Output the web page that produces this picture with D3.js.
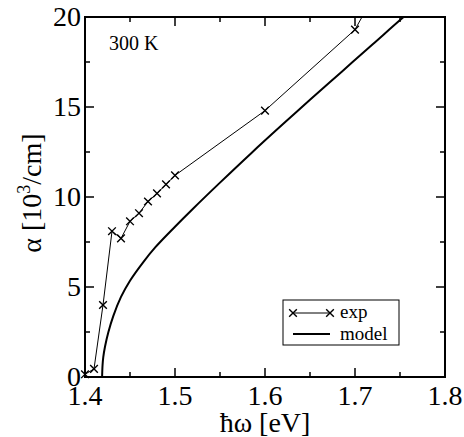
<!DOCTYPE html>
<html>
<head>
<meta charset="utf-8">
<script src="https://cdn.jsdelivr.net/npm/d3@7"></script>
<style>
  body { margin: 0; background: #fff; }
</style>
</head>
<body>
<div id="chart"></div>
<script>
// measured absorption (exp) : photon energy [eV] and alpha [10^3/cm]
var expEnergy = [1.40, 1.41, 1.42, 1.43, 1.44, 1.45, 1.46, 1.47, 1.48, 1.49, 1.50, 1.60, 1.70, 1.71];
var expAlpha  = [0.15, 0.45, 4.0, 8.1, 7.7, 8.65, 9.1, 9.75, 10.2, 10.7, 11.2, 14.8, 19.3, 20.2];

// model curve
var modelEnergy = [1.419, 1.4195, 1.4203, 1.4222, 1.426, 1.4315, 1.44, 1.45, 1.465, 1.478, 1.50, 1.52, 1.55, 1.585, 1.62, 1.65, 1.685, 1.72, 1.754, 1.77];
var modelAlpha  = [0, 0.65, 1.1, 1.68, 2.5, 3.4, 4.45, 5.35, 6.4, 7.2, 8.35, 9.35, 10.8, 12.45, 14.05, 15.4, 16.95, 18.5, 20.0, 20.65];

var xTicks = [1.4, 1.5, 1.6, 1.7, 1.8];
var yTicks = [0, 5, 10, 15, 20];
var xMinor = [1.45, 1.55, 1.65, 1.75];
var yMinor = [2.5, 7.5, 12.5, 17.5];

var FONT = "Liberation Serif";

var svgWidth = 464, svgHeight = 437;
var margin = {top: 17, right: 19, bottom: 60, left: 85};
var chartWidth = svgWidth - margin.left - margin.right;   // 360
var chartHeight = svgHeight - margin.top - margin.bottom; // 360

var svg = d3.select("#chart").append("svg")
  .attr("width", svgWidth)
  .attr("height", svgHeight);

var chartGroup = svg.append("g")
  .attr("transform", `translate(${margin.left}, ${margin.top})`);

var x = d3.scaleLinear().domain([1.4, 1.8]).range([0, chartWidth]);
var y = d3.scaleLinear().domain([0, 20]).range([chartHeight, 0]);

chartGroup.append("clipPath").attr("id", "plotclip")
  .append("rect").attr("width", chartWidth).attr("height", chartHeight);

// frame ticks, all pointing inward
function tickSet(g, vals, len, side) {
  vals.forEach(function(v) {
    var l = g.append("line").attr("stroke", "#000").attr("stroke-width", 1.5);
    if (side === "bottom") l.attr("x1", x(v)).attr("x2", x(v)).attr("y1", chartHeight).attr("y2", chartHeight - len);
    if (side === "top") l.attr("x1", x(v)).attr("x2", x(v)).attr("y1", 0).attr("y2", len);
    if (side === "left") l.attr("y1", y(v)).attr("y2", y(v)).attr("x1", 0).attr("x2", len);
    if (side === "right") l.attr("y1", y(v)).attr("y2", y(v)).attr("x1", chartWidth).attr("x2", chartWidth - len);
  });
}
var ticksG = chartGroup.append("g");
["bottom", "top"].forEach(function(s) { tickSet(ticksG, xTicks, 9, s); tickSet(ticksG, xMinor, 5, s); });
["left", "right"].forEach(function(s) { tickSet(ticksG, yTicks, 9, s); tickSet(ticksG, yMinor, 5, s); });

// tick labels
chartGroup.selectAll(".xlab").data(xTicks).enter().append("text")
  .attr("x", d => x(d))
  .attr("y", chartHeight + 28)
  .attr("text-anchor", "middle")
  .attr("font-family", FONT)
  .attr("font-size", "28px")
  .text(d => d.toFixed(1));

chartGroup.selectAll(".ylab").data(yTicks).enter().append("text")
  .attr("x", -4)
  .attr("y", d => y(d) + 9)
  .attr("text-anchor", "end")
  .attr("font-family", FONT)
  .attr("font-size", "28px")
  .text(d => d);

// model curve
var modelData = modelEnergy.map((e, i) => [e, modelAlpha[i]]);
chartGroup.append("path")
  .datum(modelData)
  .attr("clip-path", "url(#plotclip)")
  .attr("fill", "none")
  .attr("stroke", "#000")
  .attr("stroke-width", 2)
  .attr("d", d3.line().x(d => x(d[0])).y(d => y(d[1])).curve(d3.curveCatmullRom.alpha(0.5)));

// exp data
var expData = expEnergy.map((e, i) => [e, expAlpha[i]]);
chartGroup.append("path")
  .datum(expData)
  .attr("clip-path", "url(#plotclip)")
  .attr("fill", "none")
  .attr("stroke", "#000")
  .attr("stroke-width", 1)
  .attr("d", d3.line().x(d => x(d[0])).y(d => y(d[1])));

var cross = d3.symbol().type(d3.symbolX).size(40);
chartGroup.selectAll(".pt").data(expData.filter(d => d[1] <= 20)).enter().append("path")
  .attr("transform", d => `translate(${x(d[0])}, ${y(d[1])})`)
  .attr("d", cross)
  .attr("fill", "none")
  .attr("stroke", "#000")
  .attr("stroke-width", 1.4);

// frame
chartGroup.append("rect")
  .attr("width", chartWidth).attr("height", chartHeight)
  .attr("fill", "none").attr("stroke", "#000").attr("stroke-width", 2);

// annotation
chartGroup.append("text")
  .attr("x", 24).attr("y", 33)
  .attr("font-family", FONT)
  .attr("font-size", "20px")
  .text("300 K");

// legend
var lg = svg.append("g").attr("transform", "translate(283, 300)");
lg.append("rect").attr("width", 116).attr("height", 45)
  .attr("fill", "#fff").attr("stroke", "#000").attr("stroke-width", 1);
lg.append("line").attr("x1", 10).attr("x2", 47).attr("y1", 13).attr("y2", 13)
  .attr("stroke", "#000").attr("stroke-width", 1);
[10, 47].forEach(function(px) {
  lg.append("path").attr("transform", `translate(${px}, 13)`).attr("d", cross)
    .attr("fill", "none").attr("stroke", "#000").attr("stroke-width", 1.4);
});
lg.append("line").attr("x1", 10).attr("x2", 47).attr("y1", 34).attr("y2", 34)
  .attr("stroke", "#000").attr("stroke-width", 2);
lg.append("text").attr("x", 57).attr("y", 18)
  .attr("font-family", FONT).attr("font-size", "19px").text("exp");
lg.append("text").attr("x", 57).attr("y", 40)
  .attr("font-family", FONT).attr("font-size", "19px").text("model");

// axis titles
svg.append("text")
  .attr("x", margin.left + chartWidth / 2)
  .attr("y", 432)
  .attr("text-anchor", "middle")
  .attr("font-family", FONT)
  .attr("font-size", "28px")
  .text("ħω [eV]");

var yTitle = svg.append("text")
  .attr("transform", "translate(41, 193) rotate(-90)")
  .attr("text-anchor", "middle")
  .attr("font-family", FONT)
  .attr("font-size", "28px");
yTitle.append("tspan").text("α [10");
yTitle.append("tspan").attr("dy", -11).attr("font-size", "18px").text("3");
yTitle.append("tspan").attr("dy", 11).text("/cm]");
</script>
</body>
</html>
